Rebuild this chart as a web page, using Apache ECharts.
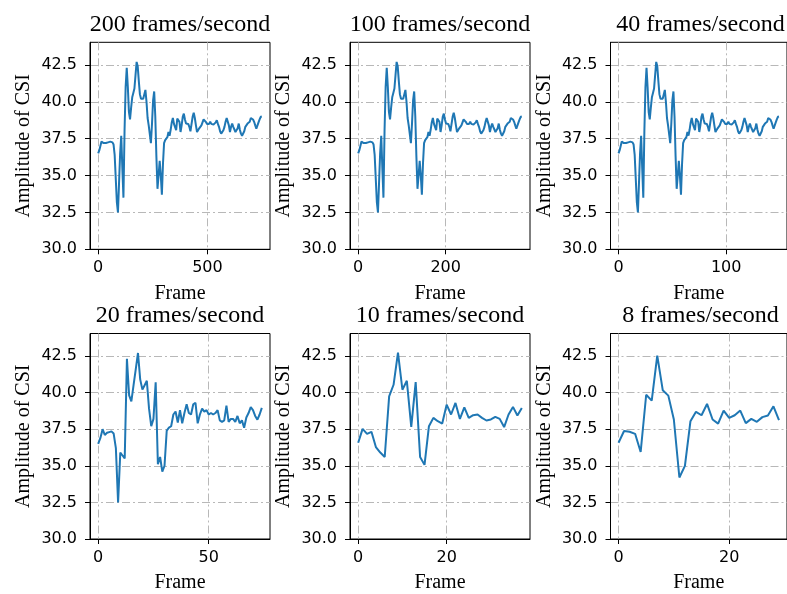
<!DOCTYPE html>
<html><head><meta charset="utf-8">
<script src="https://cdn.jsdelivr.net/npm/echarts@6/dist/echarts.min.js"></script>
<style>html,body{margin:0;padding:0;background:#fff}#c{width:787px;height:594px}</style>
</head><body><div id="c"></div>
<script>
// ---- data ----
const panelTitles = ['200 frames/second', '100 frames/second', '40 frames/second',
                     '20 frames/second', '10 frames/second', '8 frames/second'];
const frameCounts = [750, 375, 150, 75, 38, 30];
const xTickValues = [[0, 500], [0, 200], [0, 100], [0, 50], [0, 20], [0, 20]];
const yTickValues = [30, 32.5, 35, 37.5, 40, 42.5];
const yMin = 30, yMax = 44.03;

// 40 frames/second trace (also shown, stretched over frames, at 200 and 100 frames/second)
const csi40 = [
  36.5, 36.7, 37.0, 37.3, 37.4, 37.2, 37.1, 37.2, 37.3, 37.25,
  37.3, 37.3, 37.3, 37.25, 37.1, 36.4, 34.8, 33.2, 32.5, 34.5,
  36.5, 37.7, 35.5, 33.5, 38.0, 41.0, 42.3, 41.0, 39.3, 38.8,
  39.6, 40.3, 40.6, 40.9, 41.8, 42.7, 42.4, 41.4, 40.5, 40.2,
  40.1, 40.2, 40.5, 40.8, 40.0, 38.9, 38.4, 37.8, 37.2, 38.5,
  40.1, 40.7, 39.0, 36.3, 34.1, 35.0, 36.0, 35.0, 33.7, 35.8,
  37.2, 37.4, 37.3, 37.6, 37.95, 37.7, 38.1, 38.6, 38.9, 38.5,
  38.4, 38.07, 38.86, 38.8, 38.64, 37.95, 38.4, 38.98, 39.2, 38.8,
  38.52, 38.64, 38.5, 38.3, 38.0, 37.95, 38.98, 39.25, 38.9, 38.4,
  37.95, 38.0, 38.2, 38.3, 38.4, 38.5, 38.8, 38.86, 38.64, 38.5,
  38.4, 38.5, 38.64, 38.5, 38.4, 38.45, 38.52, 38.6, 38.75, 38.5,
  38.3, 38.0, 37.84, 37.9, 38.07, 38.3, 38.64, 38.9, 39.02, 38.4,
  37.95, 38.3, 38.52, 38.3, 38.18, 37.95, 37.84, 38.2, 38.52, 38.1,
  37.84, 37.7, 37.6, 38.0, 38.3, 38.4, 38.52, 38.6, 38.64, 38.9,
  38.98, 38.8, 38.64, 38.4, 38.18, 38.3, 38.6, 38.8, 38.98, 39.0
];
const csi20 = [
  36.5, 36.9, 37.5, 37.1, 37.25, 37.3, 37.35, 37.2, 36.2, 32.5,
  35.9, 35.7, 35.5, 42.3, 39.8, 39.4, 40.5, 41.6, 42.7, 40.9,
  40.2, 40.5, 40.8, 38.9, 37.7, 38.2, 40.7, 35.1, 35.6, 34.6,
  35.0, 37.4, 37.6, 37.7, 38.5, 38.7, 37.95, 38.8, 37.9, 38.6,
  39.2, 38.6, 38.5, 39.2, 39.3, 37.9, 38.5, 38.9, 38.7, 38.8,
  38.5, 38.6, 38.5, 38.6, 38.8, 38.1, 38.0, 38.1, 39.1, 38.0,
  38.2, 38.2, 38.0, 38.4, 37.9, 38.1, 37.6, 38.3, 38.6, 39.0,
  38.8, 38.4, 38.15, 38.5, 38.95
];
const csi10 = [
  36.57, 37.52, 37.18, 37.32, 36.28, 35.9, 35.6, 39.74, 40.53, 42.73,
  40.19, 40.8, 37.66, 40.71, 35.6, 35.06, 37.7, 38.27, 38.04, 37.88,
  39.17, 38.5, 39.29, 38.2, 38.99, 38.27, 38.45, 38.5, 38.27, 38.09,
  38.16, 38.34, 38.2, 37.64, 38.5, 39.02, 38.43, 38.95
];
const csi8 = [
  36.57, 37.37, 37.32, 37.18, 35.94, 39.85, 39.45, 42.52, 40.15, 39.79,
  38.16, 34.2, 34.99, 38.04, 38.68, 38.45, 39.22, 38.16, 37.88, 38.77,
  38.27, 38.45, 38.77, 37.91, 38.2, 38.0, 38.32, 38.43, 39.06, 38.11
];
const panelValues = [csi40, csi40, csi40, csi20, csi10, csi8];

// ---- layout / style ----
const colLefts = [90, 350, 610.5];
const rowTops = [42.3, 333.5];
const plotW = 180, plotH = 207;
const serif = '"Liberation Serif", "DejaVu Serif", serif';
const sans = '"DejaVu Sans", sans-serif';
const gridLineStyle = { color: '#b8b8b8', width: 1, type: [8, 3, 2, 3] };

const grids = [], xAxes = [], yAxes = [], series = [], graphics = [];
for (let p = 0; p < 6; p++) {
  const col = p % 3, row = Math.floor(p / 3);
  const left = colLefts[col], top = rowTops[row];
  grids.push({ left: left, top: top, width: plotW, height: plotH,
    show: true, borderColor: '#000', borderWidth: 1, backgroundColor: 'transparent', containLabel: false });
  const n = frameCounts[p];
  const span = n - 1;
  xAxes.push({
    type: 'value', gridIndex: p, min: -0.05 * span, max: span * 1.05,
    name: 'Frame', nameLocation: 'middle', nameGap: 34,
    nameTextStyle: { fontFamily: serif, fontSize: 20, color: '#000' },
    axisLine: { show: true, onZero: false, lineStyle: { color: '#000', width: 1 } },
    axisTick: { show: true, length: 5, lineStyle: { color: '#000', width: 1 }, customValues: xTickValues[p] },
    axisLabel: { show: true, margin: 11, fontFamily: sans, fontSize: 16, color: '#000',
      customValues: xTickValues[p], formatter: v => String(Math.round(v)) },
    splitLine: { show: true, lineStyle: gridLineStyle }
  });
  yAxes.push({
    type: 'value', gridIndex: p, min: yMin, max: yMax,
    name: 'Amplitude of CSI', nameLocation: 'middle', nameGap: 56,
    nameTextStyle: { fontFamily: serif, fontSize: 20, color: '#000' },
    axisLine: { show: true, onZero: false, lineStyle: { color: '#000', width: 1 } },
    axisTick: { show: true, length: 5, lineStyle: { color: '#000', width: 1 }, customValues: yTickValues },
    axisLabel: { show: true, margin: 13, fontFamily: sans, fontSize: 16, color: '#000',
      customValues: yTickValues, formatter: v => v.toFixed(1) },
    splitLine: { show: true, lineStyle: gridLineStyle }
  });
  const vals = panelValues[p];
  const step = span / (vals.length - 1);
  series.push({
    type: 'line', xAxisIndex: p, yAxisIndex: p, showSymbol: false, symbol: 'none',
    lineStyle: { color: '#1f77b4', width: 2 }, itemStyle: { color: '#1f77b4' },
    data: vals.map((v, i) => [i * step, v]), clip: true, animation: false
  });
  graphics.push({
    type: 'text', x: left + plotW / 2, y: top - 17.5, silent: true,
    style: { text: panelTitles[p], fill: '#000', font: '24px ' + serif,
      align: 'center', verticalAlign: 'middle', textAlign: 'center', textVerticalAlign: 'middle' }
  });
}

const chart = echarts.init(document.getElementById('c'), null, { renderer: 'canvas' });
chart.setOption({
  animation: false,
  backgroundColor: '#fff',
  grid: grids, xAxis: xAxes, yAxis: yAxes, series: series,
  graphic: graphics
});
</script></body></html>
